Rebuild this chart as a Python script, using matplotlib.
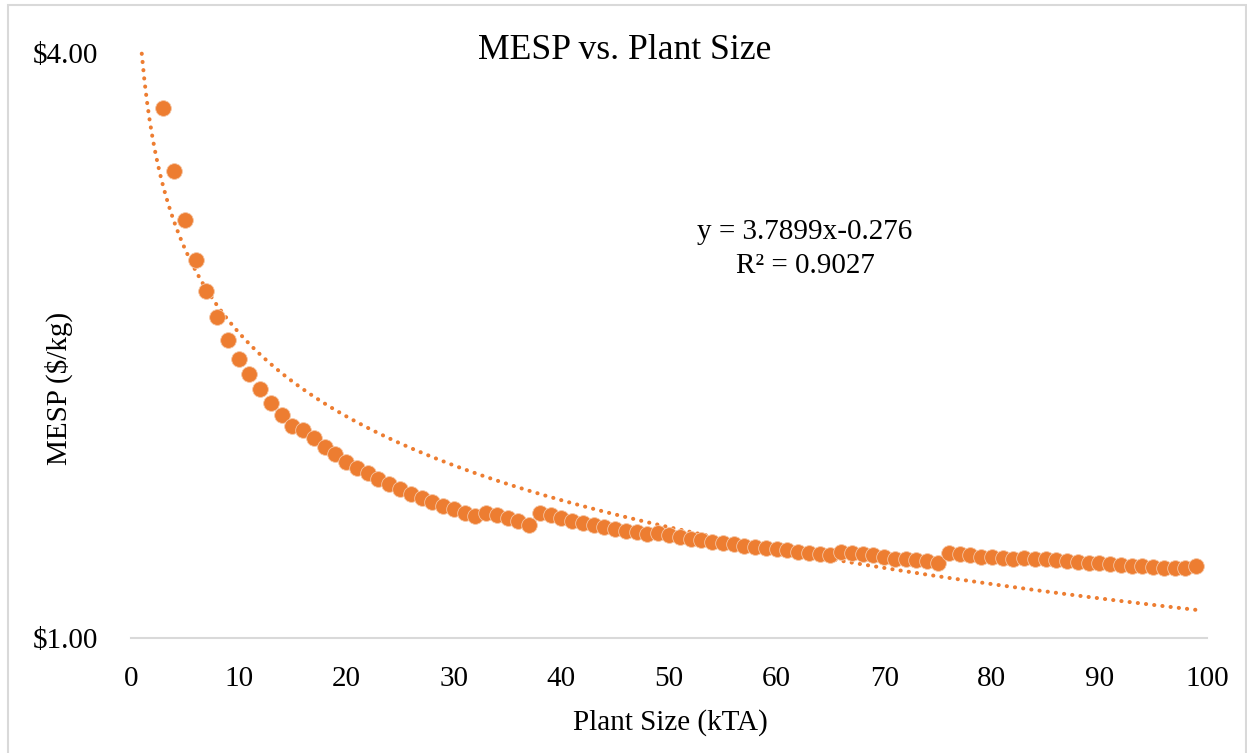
import matplotlib
matplotlib.use("Agg")
import matplotlib.pyplot as plt
import numpy as np
from matplotlib.patches import Rectangle
from matplotlib.transforms import ScaledTranslation

# Plant size (kTA) and minimum selling price ($/kg)
plant_size = list(range(3, 100))
mesp = [
    3.352, 2.897, 2.593, 2.370, 2.207, 2.077, 1.973, 1.891, 1.825, 1.764,
    1.709, 1.663, 1.622, 1.607, 1.577, 1.546, 1.520, 1.495, 1.473, 1.458,
    1.437, 1.420, 1.405, 1.390, 1.375, 1.365, 1.352, 1.341, 1.331, 1.321,
    1.329, 1.323, 1.314, 1.305, 1.293, 1.331, 1.323, 1.314, 1.307, 1.301,
    1.294, 1.287, 1.281, 1.276, 1.272, 1.268, 1.270, 1.265, 1.260, 1.254,
    1.250, 1.246, 1.241, 1.238, 1.234, 1.231, 1.227, 1.224, 1.221, 1.218,
    1.215, 1.211, 1.207, 1.216, 1.213, 1.210, 1.207, 1.202, 1.198, 1.197,
    1.195, 1.192, 1.187, 1.213, 1.210, 1.208, 1.204, 1.202, 1.200, 1.197,
    1.199, 1.197, 1.197, 1.195, 1.192, 1.189, 1.187, 1.186, 1.184, 1.181,
    1.179, 1.178, 1.176, 1.174, 1.173, 1.172, 1.178,
]

# Power trendline coefficients y = a * x^b
fit_a = 3.7899
fit_b = -0.276
fit_r2 = 0.9027
fit_x_range = (1, 99)

x_ticks = list(range(0, 101, 10))
y_ticks = [1.0, 4.0]
y_tick_labels = ["$1.00", "$4.00"]

orange = "#ED7D31"
serif = ["Liberation Serif", "DejaVu Serif"]
W, H = 1247, 753

fig = plt.figure(figsize=(W / 100, H / 100), dpi=100)
fig.patch.set_facecolor("white")

# light chart-area border
fig.add_artist(Rectangle((8 / W, -0.05), (1246 - 8) / W, 1.05 - 5 / H,
                         transform=fig.transFigure, fill=False,
                         edgecolor="#d9d9d9", linewidth=1.5))

ax = fig.add_axes([131 / W, 1 - 638 / H, (1207 - 131) / W, (638 - 30) / H])
ax.set_facecolor("none")

ax.scatter(plant_size, mesp, s=128, color=orange, edgecolors="#f5c6a5",
           linewidths=0.6, zorder=3)

tx = np.linspace(fit_x_range[0], fit_x_range[1], 400)
ax.plot(tx, fit_a * tx ** fit_b, color=orange, linewidth=2.9,
        linestyle=(0, (0.05, 2.0)), dash_capstyle="round", zorder=2)

ax.set_yscale("log", base=4)
ax.set_ylim(1, 4)
ax.set_xlim(0, 100)
ax.yaxis.set_minor_locator(matplotlib.ticker.NullLocator())
ax.set_yticks(y_ticks)
ax.set_yticklabels(y_tick_labels)
ax.set_xticks(x_ticks)

for side in ("top", "right", "left"):
    ax.spines[side].set_visible(False)
ax.spines["bottom"].set_color("#d9d9d9")
ax.spines["bottom"].set_linewidth(1.5)

fs = 21
ax.tick_params(axis="both", length=0, labelsize=fs, colors="black")
ax.tick_params(axis="x", pad=20)
ax.tick_params(axis="y", pad=24)
for lab in ax.get_xticklabels() + ax.get_yticklabels():
    lab.set_fontfamily(serif)

# top value label sits a little below the axis top
for lab in ax.get_yticklabels():
    if lab.get_text() == "$4.00":
        lab.set_transform(lab.get_transform() +
                          ScaledTranslation(0, -0.23, fig.dpi_scale_trans))


def axfrac(px, py):
    return (px - 131) / 1076, (638 - py) / 608


ax.set_xlabel("Plant Size (kTA)", fontsize=fs, family=serif, color="black")
ax.xaxis.set_label_coords(*axfrac(670, 730))
ax.xaxis.label.set_va("baseline")
ax.set_ylabel("MESP ($/kg)", fontsize=fs, family=serif, color="black")
ax.yaxis.set_label_coords(*axfrac(67, 388))
ax.yaxis.label.set_va("baseline")

fig.text(625 / W, 1 - 59 / H, "MESP vs. Plant Size", fontsize=25.7,
         family=serif, ha="center", va="baseline", color="black")

ax.text(*axfrac(805, 239), f"y = {fit_a}x{fit_b}", transform=ax.transAxes,
        fontsize=fs, family=serif, ha="center", va="baseline", color="black")
ax.text(*axfrac(805, 273), f"R\u00b2 = {fit_r2}", transform=ax.transAxes,
        fontsize=fs, family=serif, ha="center", va="baseline", color="black")

fig.savefig("out.png", dpi=100)
